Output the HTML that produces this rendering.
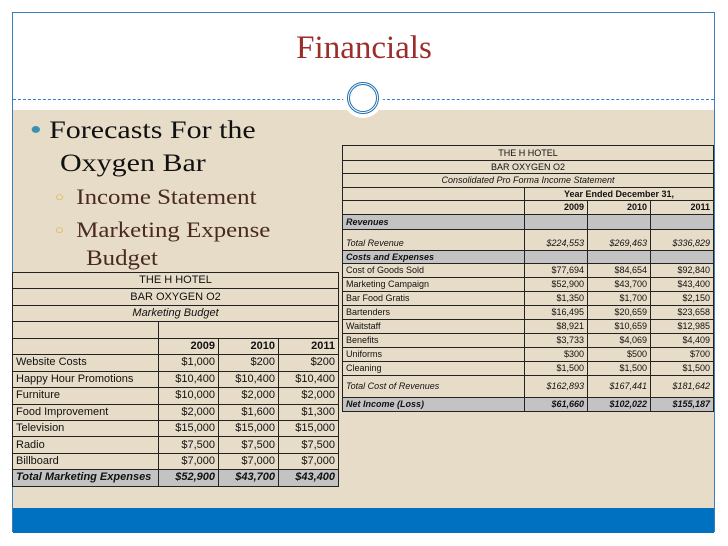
<!DOCTYPE html>
<html><head><meta charset="utf-8"><style>
body{margin:0;width:728px;height:546px;background:#fff;position:relative;overflow:hidden;font-family:"Liberation Sans",sans-serif}
.frame{position:absolute;left:12px;top:12px;width:703px;height:520px;border:1px solid #3a7fb8;box-sizing:border-box}
.beige{position:absolute;left:13px;top:110px;width:701px;height:398px;background:#e6dcc8}
.blue{position:absolute;left:13px;top:508px;width:701px;height:25px;background:#0070c0}
.dash{position:absolute;left:13px;top:99px;width:701px;border-top:1px dashed #3a7fb8}
.title{position:absolute;left:0;width:728px;top:30px;text-align:center;font-family:"Liberation Serif",serif;font-size:33px;color:#9b2d2a}
.circ{position:absolute;left:343px;top:78px;width:40px;height:40px;border-radius:50%;background:#fff}
.circ div{position:absolute;left:4px;top:4px;width:26px;height:26px;border-radius:50%;border:3px double #1f6fb0}
.txt{position:absolute;font-family:"Liberation Serif",serif;white-space:nowrap;transform-origin:0 0}
table{position:absolute;border-collapse:collapse;table-layout:fixed;color:#111}
td{border:1px solid #222;padding:0 3px;white-space:nowrap;overflow:hidden;line-height:1}
.r{text-align:right}.c{text-align:center}.i{font-style:italic}.b{font-weight:bold}.g{background:#c3c3c3}
#lt{left:12px;top:272px;width:326px;font-size:11px}
#lt tr{height:16.45px}
#rt{left:342px;top:145px;width:371px;font-size:9px}
</style></head><body>
<div class="frame"></div>
<div class="beige"></div>
<div class="blue"></div>
<div class="dash"></div>
<div class="title">Financials</div>
<div class="circ"><div></div></div>
<div class="txt" style="left:30px;top:113px;font-size:25px;line-height:33px;color:#111;transform:scaleX(1.2)"><span style="color:#3a92b0;font-size:16px;vertical-align:4px">●</span>&nbsp;Forecasts For the<br>&nbsp;&nbsp;&nbsp;&nbsp;Oxygen Bar</div>
<div class="txt" style="left:55px;top:182px;font-size:22px;line-height:30px;color:#4a2a20;transform:scaleX(1.13)"><span style="color:#e0b040;font-size:13px;vertical-align:3px">○</span>&nbsp;&nbsp;Income Statement</div>
<div class="txt" style="left:55px;top:216px;font-size:22px;line-height:28px;color:#4a2a20;transform:scaleX(1.13)"><span style="color:#e0b040;font-size:13px;vertical-align:3px">○</span>&nbsp;&nbsp;Marketing Expense<br>&nbsp;&nbsp;&nbsp;&nbsp;&nbsp;Budget</div>

<table id="lt">
<colgroup><col style="width:146px"><col style="width:60px"><col style="width:60px"><col style="width:60px"></colgroup>
<tr><td colspan="4" class="c">THE H HOTEL</td></tr>
<tr><td colspan="4" class="c">BAR OXYGEN O2</td></tr>
<tr><td colspan="4" class="c i">Marketing Budget</td></tr>
<tr><td></td><td colspan="3"></td></tr>
<tr><td></td><td class="r b">2009</td><td class="r b">2010</td><td class="r b">2011</td></tr>
<tr><td>Website Costs</td><td class="r">$1,000</td><td class="r">$200</td><td class="r">$200</td></tr>
<tr><td>Happy Hour Promotions</td><td class="r">$10,400</td><td class="r">$10,400</td><td class="r">$10,400</td></tr>
<tr><td>Furniture</td><td class="r">$10,000</td><td class="r">$2,000</td><td class="r">$2,000</td></tr>
<tr><td>Food Improvement</td><td class="r">$2,000</td><td class="r">$1,600</td><td class="r">$1,300</td></tr>
<tr><td>Television</td><td class="r">$15,000</td><td class="r">$15,000</td><td class="r">$15,000</td></tr>
<tr><td>Radio</td><td class="r">$7,500</td><td class="r">$7,500</td><td class="r">$7,500</td></tr>
<tr><td>Billboard</td><td class="r">$7,000</td><td class="r">$7,000</td><td class="r">$7,000</td></tr>
<tr class="g"><td class="b i">Total Marketing Expenses</td><td class="r b i">$52,900</td><td class="r b i">$43,700</td><td class="r b i">$43,400</td></tr>
</table>

<table id="rt">
<colgroup><col style="width:182px"><col style="width:63px"><col style="width:63px"><col style="width:63px"></colgroup>
<tr style="height:15px"><td colspan="4" class="c">THE H HOTEL</td></tr>
<tr style="height:13px"><td colspan="4" class="c">BAR OXYGEN O2</td></tr>
<tr style="height:14px"><td colspan="4" class="c i">Consolidated Pro Forma Income Statement</td></tr>
<tr style="height:13px"><td></td><td colspan="3" class="c b">Year Ended December 31,</td></tr>
<tr style="height:14px"><td></td><td class="r b">2009</td><td class="r b">2010</td><td class="r b">2011</td></tr>
<tr style="height:15px" class="g"><td class="b i">Revenues</td><td></td><td></td><td></td></tr>
<tr style="height:21px"><td class="i" style="vertical-align:bottom;padding-bottom:2px">Total Revenue</td><td class="r i" style="vertical-align:bottom;padding-bottom:2px">$224,553</td><td class="r i" style="vertical-align:bottom;padding-bottom:2px">$269,463</td><td class="r i" style="vertical-align:bottom;padding-bottom:2px">$336,829</td></tr>
<tr style="height:13px" class="g"><td class="b i">Costs and Expenses</td><td></td><td></td><td></td></tr>
<tr style="height:14px"><td>Cost of Goods Sold</td><td class="r">$77,694</td><td class="r">$84,654</td><td class="r">$92,840</td></tr>
<tr style="height:14px"><td>Marketing Campaign</td><td class="r">$52,900</td><td class="r">$43,700</td><td class="r">$43,400</td></tr>
<tr style="height:14px"><td>Bar Food Gratis</td><td class="r">$1,350</td><td class="r">$1,700</td><td class="r">$2,150</td></tr>
<tr style="height:14px"><td>Bartenders</td><td class="r">$16,495</td><td class="r">$20,659</td><td class="r">$23,658</td></tr>
<tr style="height:14px"><td>Waitstaff</td><td class="r">$8,921</td><td class="r">$10,659</td><td class="r">$12,985</td></tr>
<tr style="height:14px"><td>Benefits</td><td class="r">$3,733</td><td class="r">$4,069</td><td class="r">$4,409</td></tr>
<tr style="height:14px"><td>Uniforms</td><td class="r">$300</td><td class="r">$500</td><td class="r">$700</td></tr>
<tr style="height:14px"><td>Cleaning</td><td class="r">$1,500</td><td class="r">$1,500</td><td class="r">$1,500</td></tr>
<tr style="height:22px"><td class="i">Total Cost of Revenues</td><td class="r i">$162,893</td><td class="r i">$167,441</td><td class="r i">$181,642</td></tr>
<tr style="height:14px" class="g"><td class="b i">Net Income (Loss)</td><td class="r b i">$61,660</td><td class="r b i">$102,022</td><td class="r b i">$155,187</td></tr>
</table>
</body></html>
